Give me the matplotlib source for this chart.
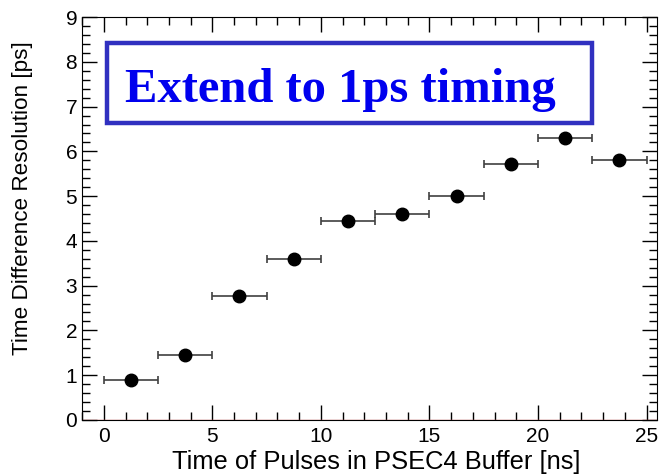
import matplotlib
matplotlib.use("Agg")
import matplotlib.pyplot as plt
from matplotlib.patches import Rectangle
from matplotlib.ticker import MultipleLocator

# Données
t_pulse = [1.25, 3.75, 6.25, 8.75, 11.25, 13.75, 16.25, 18.75, 21.25, 23.75]
t_err = [1.25] * 10
resolution = [0.89, 1.45, 2.77, 3.6, 4.44, 4.6, 5.0, 5.71, 6.29, 5.8]

plt.rcParams['font.family'] = ['Liberation Sans', 'DejaVu Sans']

fig = plt.figure(figsize=(6.62, 4.75), dpi=100)
ax = fig.add_axes([0.124, 0.116, 0.869, 0.848])

ax.errorbar(t_pulse, resolution, xerr=t_err, fmt='o', color='black',
            ecolor='#404040', elinewidth=1.2, capsize=3, capthick=1.2,
            markersize=9)
ax.axhline(0, color='#e06060', linewidth=1)

ax.set_xlim(-1, 25.5)
ax.set_ylim(0, 9)
ax.xaxis.set_major_locator(MultipleLocator(5))
ax.xaxis.set_minor_locator(MultipleLocator(1))
ax.yaxis.set_major_locator(MultipleLocator(1))
ax.yaxis.set_minor_locator(MultipleLocator(0.2))
ax.tick_params(which='both', direction='in', top=True, right=True,
               labelsize=15, width=1)
ax.tick_params(which='major', length=11)
ax.tick_params(which='minor', length=6)
ax.tick_params(axis='x', pad=5)

ax.set_xlabel("Time of Pulses in PSEC4 Buffer [ns]", fontsize=18.4)
ax.xaxis.set_label_coords(0.512, -0.074)
ax.set_ylabel("Time Difference Resolution [ps]", fontsize=16.2)
ax.yaxis.set_label_coords(-0.085, 0.551)

# Encadré titre
ax.add_patch(Rectangle((0.0435, 0.737), 0.8435, 0.198, transform=ax.transAxes,
                       facecolor='white', edgecolor='#3030c0', linewidth=3.2,
                       zorder=5))
ax.text(0.4496, 0.789, "Extend to 1ps timing", transform=ax.transAxes,
        ha='center', va='baseline', fontsize=35, fontweight='bold',
        family='Liberation Serif', color='#0000ee', zorder=6)

fig.savefig("out.png", dpi=100)
